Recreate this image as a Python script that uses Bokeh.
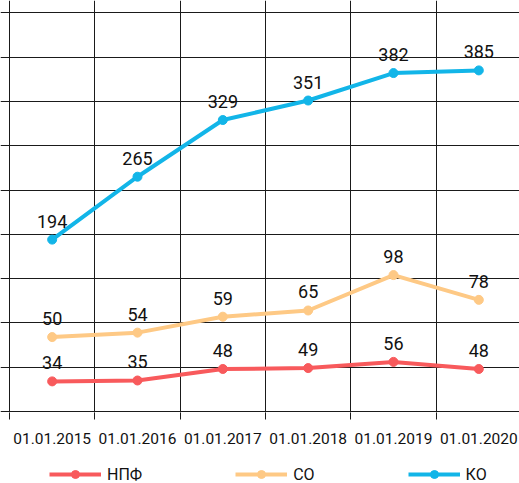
import numpy as np
from bokeh.plotting import figure
from bokeh.layouts import column
from bokeh.models import Range1d, FixedTicker, ColumnDataSource, Legend, LegendItem
from bokeh.core.properties import value
from bokeh.embed import file_html
from bokeh.resources import INLINE

categories = ["01.01.2015", "01.01.2016", "01.01.2017", "01.01.2018", "01.01.2019", "01.01.2020"]
npf = [34, 35, 48, 49, 56, 48]
so = [50, 54, 59, 65, 98, 78]
ko = [194, 265, 329, 351, 382, 385]
series_names = ["НПФ", "СО", "КО"]
colors = ["#F85A5C", "#FEC985", "#12B5E8"]
y_grid_values = [0, 50, 100, 150, 200, 250, 300, 350, 400, 450]

FONT = "Roboto"
CW = 85.33  # px per category

xs = np.arange(len(categories)) + 0.5
so_stacked = np.array(npf) + np.array(so)

W, H_MAIN, H_LEG = 519, 455, 28
x0 = -9 / CW
p = figure(width=W, height=H_MAIN, output_backend="svg", toolbar_location=None,
           x_range=Range1d(x0, x0 + W / CW),
           y_range=Range1d(-1.13, 463.9),
           min_border_left=0, min_border_right=0, min_border_top=0, min_border_bottom=43,
           outline_line_color=None)

p.yaxis.visible = False
p.ygrid.ticker = FixedTicker(ticks=y_grid_values)
p.ygrid.grid_line_color = "#1a1a1a"
p.ygrid.grid_line_width = 1
p.xgrid.ticker = FixedTicker(ticks=list(range(len(categories) + 1)))
p.xgrid.grid_line_color = "#1a1a1a"
p.xgrid.grid_line_width = 1

p.xaxis.ticker = FixedTicker(ticks=list(xs), minor_ticks=list(range(len(categories) + 1)))
p.xaxis.major_label_overrides = {float(x): c for x, c in zip(xs, categories)}
p.xaxis.axis_line_color = None
p.xaxis.major_tick_out = 0
p.xaxis.major_tick_in = 0
p.xaxis.minor_tick_out = 7
p.xaxis.minor_tick_in = 0
p.xaxis.minor_tick_line_color = "#1a1a1a"
p.xaxis.major_label_standoff = 13
p.xaxis.major_label_text_font = FONT
p.xaxis.major_label_text_font_size = "15.5px"
p.xaxis.major_label_text_color = "#111111"

# legend strip below the chart (its renderers reuse the series data, outside the strip's view)
lg = figure(width=W, height=H_LEG, output_backend="svg", toolbar_location=None,
            x_range=Range1d(0, 1), y_range=Range1d(-2, -1),
            min_border_left=0, min_border_right=0, min_border_top=0, min_border_bottom=0,
            outline_line_color=None)
lg.axis.visible = False
lg.grid.visible = False

items = []
for name, vals, labels, col in [
    (series_names[0], np.array(npf), npf, colors[0]),
    (series_names[1], so_stacked, so, colors[1]),
    (series_names[2], np.array(ko), ko, colors[2]),
]:
    src = ColumnDataSource(dict(x=xs, y=vals, t=[str(v) for v in labels]))
    p.line("x", "y", source=src, line_color=col, line_width=4)
    p.scatter("x", "y", source=src, size=9, fill_color=col, line_color=col, line_width=1)
    p.text("x", "y", text="t", source=src, text_align="center", text_baseline="alphabetic",
           y_offset=-18.5, text_font=value(FONT), text_font_size="18px", text_color="#111111")
    l1 = lg.line("x", "y", source=src, line_color=col, line_width=4)
    l2 = lg.scatter("x", "y", source=src, size=9, fill_color=col, line_color=col, line_width=1)
    items.append(LegendItem(label=name, renderers=[l1, l2]))

legend = Legend(items=items, orientation="horizontal", location=(49, -1),
                border_line_color=None, background_fill_alpha=0, padding=0, margin=0,
                glyph_width=52, glyph_height=20, label_height=20, label_standoff=6, spacing=93,
                label_text_font=FONT, label_text_font_size="16px", label_text_color="#111111")
lg.add_layout(legend, "center")

layout = column(p, lg, spacing=0)
open("out.html", "w").write(file_html(layout, INLINE))
